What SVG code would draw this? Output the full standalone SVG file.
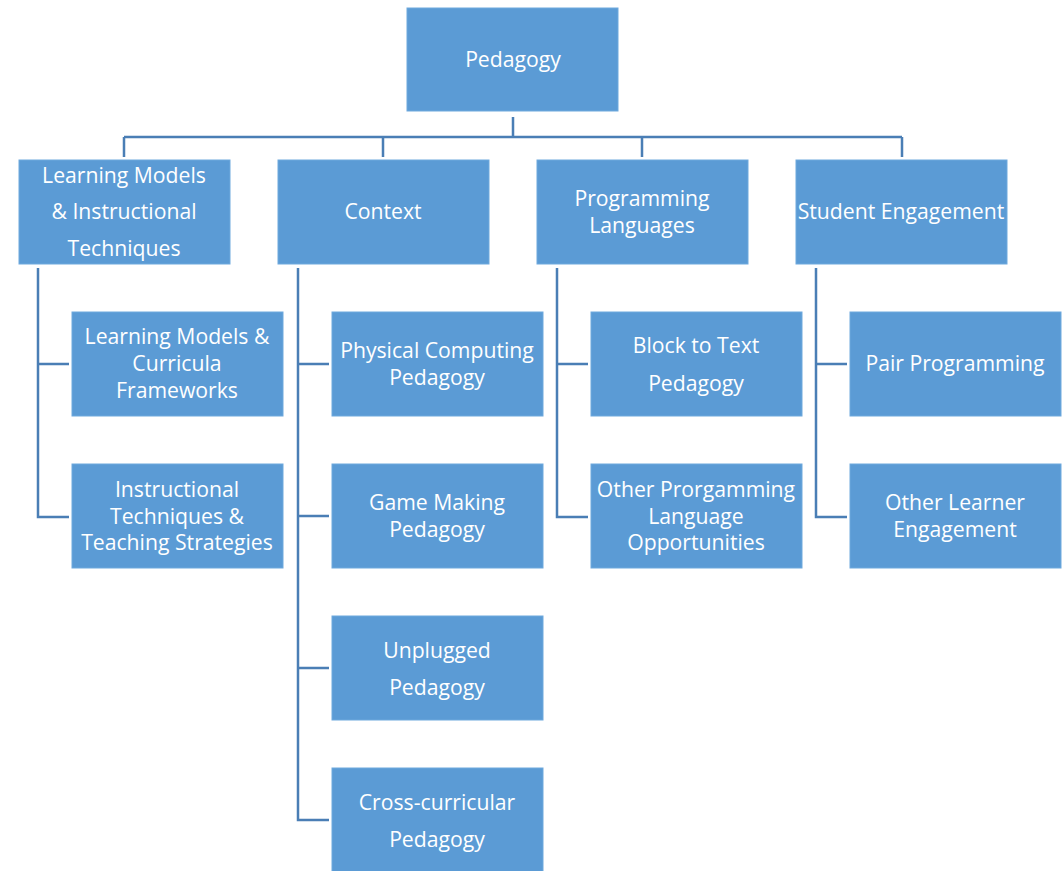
<svg xmlns="http://www.w3.org/2000/svg" width="1063" height="871" viewBox="0 0 1063 871">
<style>
.box{fill:#5B9BD5;stroke:#6FA9DD;stroke-width:1}
.t{fill:#FFFFFF;font-family:"Open Sans","Liberation Sans",sans-serif;font-size:21.2px;text-anchor:middle}
.c{fill:none;stroke:#4A7EB5;stroke-width:2.5}
</style>
<rect width="1063" height="871" fill="#FFFFFF"/>
<g id="connectors">
<path class="c" d="M513 117V137M124 137H902M124 137V157M383 137V157M642 137V157M902 137V157"/>
<path class="c" d="M38 268V517H69M38 364H69"/>
<path class="c" d="M298 268V820H329M298 364H329M298 516H329M298 668H329"/>
<path class="c" d="M557 268V517H588M557 364H588"/>
<path class="c" d="M816 268V517H847M816 364H847"/>
</g>
<g id="pedagogy"><rect class="box" x="407" y="8" width="211" height="103"/><text class="t" x="513" y="67">Pedagogy</text></g>
<g id="learning-models"><rect class="box" x="19" y="160" width="211" height="104"/><text class="t" x="124" y="183">Learning Models</text><text class="t" x="124" y="219">&amp; Instructional</text><text class="t" x="124" y="256">Techniques</text></g>
<g id="context"><rect class="box" x="278" y="160" width="211" height="104"/><text class="t" x="383" y="219">Context</text></g>
<g id="programming-languages"><rect class="box" x="537" y="160" width="211" height="104"/><text class="t" x="642" y="206">Programming</text><text class="t" x="642" y="233">Languages</text></g>
<g id="student-engagement"><rect class="box" x="796" y="160" width="211" height="104"/><text class="t" x="901" y="219">Student Engagement</text></g>
<g id="lm-curricula"><rect class="box" x="72" y="312" width="211" height="104"/><text class="t" x="177" y="344">Learning Models &amp;</text><text class="t" x="177" y="371">Curricula</text><text class="t" x="177" y="398">Frameworks</text></g>
<g id="instructional-techniques"><rect class="box" x="72" y="464" width="211" height="104"/><text class="t" x="177" y="497">Instructional</text><text class="t" x="177" y="524">Techniques &amp;</text><text class="t" x="177" y="550">Teaching Strategies</text></g>
<g id="physical-computing"><rect class="box" x="332" y="312" width="211" height="104"/><text class="t" x="437" y="358">Physical Computing</text><text class="t" x="437" y="385">Pedagogy</text></g>
<g id="game-making"><rect class="box" x="332" y="464" width="211" height="104"/><text class="t" x="437" y="510">Game Making</text><text class="t" x="437" y="537">Pedagogy</text></g>
<g id="unplugged"><rect class="box" x="332" y="616" width="211" height="104"/><text class="t" x="437" y="658">Unplugged</text><text class="t" x="437" y="695">Pedagogy</text></g>
<g id="cross-curricular"><rect class="box" x="332" y="768" width="211" height="110"/><text class="t" x="437" y="810">Cross-curricular</text><text class="t" x="437" y="847">Pedagogy</text></g>
<g id="block-to-text"><rect class="box" x="591" y="312" width="211" height="104"/><text class="t" x="696" y="353">Block to Text</text><text class="t" x="696" y="391">Pedagogy</text></g>
<g id="other-programming"><rect class="box" x="591" y="464" width="211" height="104"/><text class="t" x="696" y="497">Other Prorgamming</text><text class="t" x="696" y="524">Language</text><text class="t" x="696" y="550">Opportunities</text></g>
<g id="pair-programming"><rect class="box" x="850" y="312" width="211" height="104"/><text class="t" x="955" y="371">Pair Programming</text></g>
<g id="other-learner"><rect class="box" x="850" y="464" width="211" height="104"/><text class="t" x="955" y="510">Other Learner</text><text class="t" x="955" y="537">Engagement</text></g>
</svg>
